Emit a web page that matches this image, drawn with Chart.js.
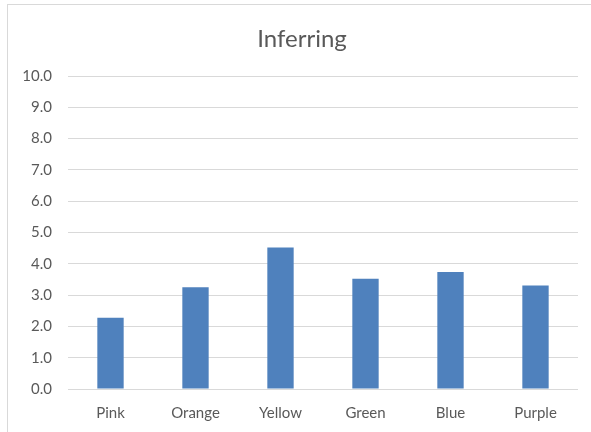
<!DOCTYPE html>
<html>
<head>
<meta charset="utf-8">
<script src="https://cdn.jsdelivr.net/npm/chart.js@4"></script>
<style>
    html, body { margin: 0; padding: 0; background: #fff; overflow: hidden; }
    #frame { position: absolute; left: 7px; top: 4px; width: 800px; height: 800px; border: 1px solid #d9d9d9; }
    #chart { position: absolute; left: 0; top: 0; }
</style>
</head>
<body>
<div id="frame"></div>
<canvas id="chart" width="591" height="432"></canvas>
<script>
// Chart data
const categories = ['Pink', 'Orange', 'Yellow', 'Green', 'Blue', 'Purple'];
const scores = [2.28, 3.25, 4.52, 3.52, 3.74, 3.31];
const chartTitle = 'Inferring';

const textColor = '#595959';
const fontFamily = 'Lato, "Liberation Sans", sans-serif';

// Title is centred on the outer frame, not on the plot, so draw it by hand
const frameTitle = {
    id: 'frameTitle',
    afterDraw(chart) {
        const ctx = chart.ctx;
        ctx.save();
        ctx.fillStyle = textColor;
        ctx.font = `24px ${fontFamily}`;
        ctx.textAlign = 'center';
        ctx.textBaseline = 'middle';
        ctx.fillText(chartTitle, 302, 39);
        ctx.restore();
    }
};

new Chart(document.getElementById('chart'), {
    type: 'bar',
    data: {
        labels: categories,
        datasets: [{
            label: chartTitle,
            data: scores,
            backgroundColor: '#4f81bd',
            borderWidth: 0,
            categoryPercentage: 1,
            barPercentage: 0.31
        }]
    },
    options: {
        responsive: false,
        animation: false,
        layout: { padding: { left: 0, right: 13, top: 76, bottom: 0 } },
        plugins: {
            legend: { display: false },
            tooltip: { enabled: false },
            title: { display: false }
        },
        scales: {
            x: {
                grid: { display: false, drawTicks: false },
                border: { display: false },
                ticks: {
                    color: textColor,
                    font: { family: fontFamily, size: 15 },
                    padding: 15
                },
                afterFit: (scale) => { scale.height = 43; }
            },
            y: {
                min: 0,
                max: 10,
                grid: { color: '#d9d9d9', drawTicks: false },
                border: { display: false },
                ticks: {
                    stepSize: 1,
                    color: textColor,
                    font: { family: fontFamily, size: 15 },
                    padding: 16,
                    callback: (value) => value.toFixed(1)
                },
                afterFit: (scale) => { scale.width = 68; }
            }
        }
    },
    plugins: [frameTitle]
});
</script>
</body>
</html>
